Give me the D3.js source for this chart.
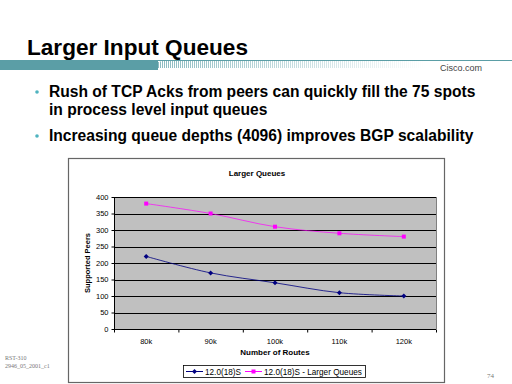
<!DOCTYPE html>
<html lang="en">
<head>
  <meta charset="UTF-8" />
  <title>Larger Input Queues</title>
  <script src="https://d3js.org/d3.v7.min.js"></script>
  <style>
    body { margin: 0; padding: 0; background: white; }
    svg { display: block; font-family: "Liberation Sans", Arial, sans-serif; }
    .bullet-text { font-weight: bold; font-size: 15.6px; fill: #000; }
    .grid line { stroke: #000; stroke-width: 1px; }
    .axis path, .axis line { stroke: #000; }
    .axis text { font-size: 7.5px; fill: #000; }
  </style>
</head>
<body>
  <svg id="slide" width="512" height="384"></svg>

  <script>
    // chart data
    const routes = ["80k", "90k", "100k", "110k", "120k"];
    const peersDefault = [220, 170, 140, 110, 100];
    const peersLarger = [380, 350, 310, 290, 280];
    const yTicks = [0, 50, 100, 150, 200, 250, 300, 350, 400];
    const seriesNames = ["12.0(18)S", "12.0(18)S - Larger Queues"];

    const svg = d3.select("#slide");
    const teal = "#5b9ea6";

    // header
    svg.append("text")
      .attr("x", 27).attr("y", 55)
      .style("font-size", "22.6px").style("font-weight", "bold")
      .text("Larger Input Queues");

    svg.append("rect").attr("x", 0).attr("y", 60).attr("width", 158).attr("height", 10).attr("fill", teal);
    svg.append("line").attr("x1", 0).attr("x2", 512).attr("y1", 60.5).attr("y2", 60.5)
      .attr("stroke", teal).attr("stroke-width", 1);
    // fading striped band
    const stripes = svg.append("g");
    for (let x = 158; x < 425; x += 2) {
      const t = (x - 158) / 267;
      stripes.append("rect")
        .attr("x", x).attr("y", 62 - Math.min(2, (x - 158) / 4)).attr("width", 1)
        .attr("height", 8 + Math.min(2, (x - 158) / 4) - 2)
        .attr("fill", teal)
        .attr("opacity", 0.7 * (1 - t));
    }
    svg.append("text")
      .attr("x", 440).attr("y", 71)
      .style("font-size", "9px").attr("fill", "#444")
      .text("Cisco.com");

    // bullets
    const bullets = [
      { y: 97, lines: ["Rush of TCP Acks from peers can quickly fill the 75 spots", "in process level input queues"] },
      { y: 141, lines: ["Increasing queue depths (4096) improves BGP scalability"] }
    ];
    bullets.forEach(b => {
      svg.append("circle").attr("cx", 37).attr("cy", b.y - 5).attr("r", 1.8).attr("fill", "#4fb3bf");
      b.lines.forEach((l, i) => {
        svg.append("text").attr("class", "bullet-text")
          .attr("x", 49).attr("y", b.y + i * 18)
          .text(l);
      });
    });

    // chart box
    svg.append("rect")
      .attr("x", 68.5).attr("y", 158.5).attr("width", 376).attr("height", 224)
      .attr("fill", "white").attr("stroke", "#666").attr("stroke-width", 1.2);

    svg.append("text")
      .attr("x", 257).attr("y", 176)
      .attr("text-anchor", "middle")
      .style("font-size", "8px").style("font-weight", "bold")
      .text("Larger Queues");

    const plot = { left: 114, right: 436, top: 197, bottom: 329 };

    const x = d3.scaleBand().domain(routes).range([plot.left, plot.right]);
    const y = d3.scaleLinear().domain([0, 400]).range([plot.bottom, plot.top]);

    svg.append("rect")
      .attr("x", plot.left).attr("y", plot.top)
      .attr("width", plot.right - plot.left).attr("height", plot.bottom - plot.top)
      .attr("fill", "#c0c0c0");

    svg.append("g").attr("class", "grid")
      .selectAll("line")
      .data(yTicks.filter(d => d > 0))
      .join("line")
      .attr("x1", plot.left).attr("x2", plot.right)
      .attr("y1", d => Math.round(y(d)) + 0.5).attr("y2", d => Math.round(y(d)) + 0.5);

    // right edge of plot area
    svg.append("line")
      .attr("x1", plot.right + 0.5).attr("x2", plot.right + 0.5)
      .attr("y1", plot.top).attr("y2", plot.bottom)
      .attr("stroke", "#808080");

    // y axis
    const yAxis = svg.append("g").attr("class", "axis")
      .attr("transform", `translate(${plot.left + 0.5},0)`)
      .call(d3.axisLeft(y).tickValues(yTicks).tickSize(3).tickPadding(3));
    yAxis.select(".domain").attr("d", `M0,${plot.top}V${plot.bottom}`);

    // x axis: ticks between categories
    const xAxis = svg.append("g").attr("class", "axis")
      .attr("transform", `translate(0,${plot.bottom + 0.5})`);
    xAxis.append("line")
      .attr("x1", plot.left).attr("x2", plot.right)
      .attr("stroke", "#000");
    xAxis.selectAll(".xtick")
      .data(routes.concat(["end"]))
      .join("line")
      .attr("x1", (d, i) => plot.left + i * x.bandwidth() + 0.5)
      .attr("x2", (d, i) => plot.left + i * x.bandwidth() + 0.5)
      .attr("y1", 0).attr("y2", 3)
      .attr("stroke", "#000");
    xAxis.selectAll(".xlabel")
      .data(routes)
      .join("text")
      .attr("x", d => x(d) + x.bandwidth() / 2)
      .attr("y", 14)
      .attr("text-anchor", "middle")
      .text(d => d);

    svg.append("text")
      .attr("x", 275).attr("y", 355)
      .attr("text-anchor", "middle")
      .style("font-size", "8px").style("font-weight", "bold")
      .text("Number of Routes");

    svg.append("text")
      .attr("transform", `translate(90,${(plot.top + plot.bottom) / 2}) rotate(-90)`)
      .attr("text-anchor", "middle")
      .style("font-size", "7.5px").style("font-weight", "bold")
      .text("Supported Peers");

    // series
    const cx = d => x(d) + x.bandwidth() / 2;
    const line = d3.line()
      .x(d => cx(d.r)).y(d => y(d.v))
      .curve(d3.curveCatmullRom.alpha(0.5));

    const series = [
      { name: seriesNames[0], values: peersDefault, color: "#000080", marker: "diamond" },
      { name: seriesNames[1], values: peersLarger, color: "#ff00ff", marker: "square" }
    ];

    function drawMarker(g, type, px, py, color) {
      if (type === "diamond") {
        g.append("path")
          .attr("d", `M${px},${py - 2.5}L${px + 2.5},${py}L${px},${py + 2.5}L${px - 2.5},${py}Z`)
          .attr("fill", color);
      } else {
        g.append("rect")
          .attr("x", px - 2).attr("y", py - 2).attr("width", 4).attr("height", 4)
          .attr("fill", color);
      }
    }

    series.forEach(s => {
      const pts = routes.map((r, i) => ({ r, v: s.values[i] }));
      svg.append("path")
        .datum(pts)
        .attr("d", line)
        .attr("fill", "none")
        .attr("stroke", s.color)
        .attr("stroke-opacity", s.color === "#ff00ff" ? 0.7 : 0.8)
        .attr("stroke-width", 1);
      const g = svg.append("g");
      pts.forEach(p => drawMarker(g, s.marker, cx(p.r), y(p.v), s.color));
    });

    // legend
    const legend = svg.append("g");
    legend.append("rect")
      .attr("x", 183.5).attr("y", 365.5).attr("width", 182).attr("height", 12)
      .attr("fill", "white").attr("stroke", "#000").attr("stroke-width", 0.8);
    const legendItems = [
      { s: series[0], x0: 186, tx: 205 },
      { s: series[1], x0: 245, tx: 264 }
    ];
    legendItems.forEach(it => {
      legend.append("line")
        .attr("x1", it.x0).attr("x2", it.x0 + 17)
        .attr("y1", 371.5).attr("y2", 371.5)
        .attr("stroke", it.s.color).attr("stroke-width", 1);
      drawMarker(legend, it.s.marker, it.x0 + 8.5, 371.5, it.s.color);
      legend.append("text")
        .attr("x", it.tx).attr("y", 374.5)
        .style("font-size", "8.2px")
        .text(it.s.name);
    });

    // footer
    svg.append("text")
      .attr("x", 5).attr("y", 360)
      .style("font-family", "'Liberation Serif', serif").style("font-size", "6px").attr("fill", "#777")
      .text("RST-310");
    svg.append("text")
      .attr("x", 5).attr("y", 368)
      .style("font-family", "'Liberation Serif', serif").style("font-size", "6px").attr("fill", "#777")
      .text("2946_05_2001_c1");
    svg.append("text")
      .attr("x", 487).attr("y", 378)
      .style("font-family", "'Liberation Serif', serif").style("font-size", "7px").attr("fill", "#777")
      .text("74");
  </script>
</body>
</html>
